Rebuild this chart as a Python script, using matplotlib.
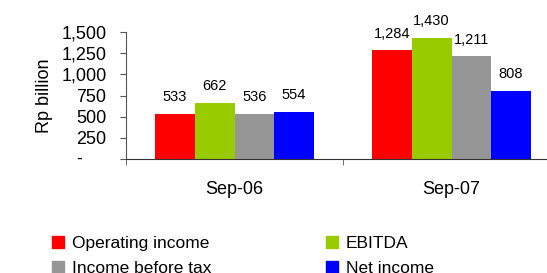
import numpy as np
import matplotlib.pyplot as plt
from matplotlib.patches import Patch
import matplotlib.transforms as mtransforms

plt.rcParams['font.family'] = ['Liberation Sans', 'DejaVu Sans']

periods = ['Sep-06', 'Sep-07']
series = ['Operating income', 'EBITDA', 'Income before tax', 'Net income']
colors = ['#FF0000', '#99CC00', '#969696', '#0000FF']
operating_income = [533, 1284]
ebitda = [662, 1430]
income_before_tax = [536, 1211]
net_income = [554, 808]
values = [operating_income, ebitda, income_before_tax, net_income]

yticks = [0, 250, 500, 750, 1000, 1250, 1500]
ytick_labels = ['', '250', '500', '750', '1,000', '1,250', '1,500']

fig = plt.figure(figsize=(5.47, 2.73), dpi=100)
# plot area runs past the right edge, like the original
ax = fig.add_axes([126 / 547, 1 - 159 / 273, 434 / 547, 127 / 273])

x = np.arange(len(periods))
w = 0.183
for i, (name, vals, c) in enumerate(zip(series, values, colors)):
    pos = x + (i - 1.5) * w
    ax.bar(pos, vals, width=w, color=c, label=name)
    for p, v in zip(pos, vals):
        ax.annotate(f'{v:,}', (p, v), xytext=(0, 7), textcoords='offset points',
                    ha='center', va='bottom', fontsize=10.5)

ax.set_xlim(-0.5, 1.5)
ax.set_ylim(0, 1500)
ax.set_yticks(yticks)
ax.set_yticklabels(ytick_labels, fontsize=13)
# zero shown as a dash, accounting style (sits left of the other labels)
trans = mtransforms.blended_transform_factory(fig.transFigure, ax.transData)
ax.text(79 / 547, 0, '-', transform=trans, ha='center', va='center', fontsize=13)
ax.set_xticks(x)
ax.set_xticklabels(periods, fontsize=13)
ax.set_xticks([-0.5, 0.5], minor=True)
ax.tick_params(axis='x', which='major', length=0, pad=16)
ax.tick_params(axis='x', which='minor', length=4, color='#555555')
ax.tick_params(axis='y', length=4, pad=10, color='#555555')
ax.set_ylabel('Rp billion', fontsize=13, labelpad=6)

for s in ['top', 'right']:
    ax.spines[s].set_visible(False)
ax.spines['left'].set_color('#555555')
ax.spines['bottom'].set_color('#333333')

order = [0, 2, 1, 3]
handles = [Patch(color=colors[i], label=series[i]) for i in order]
fig.legend(handles=handles, ncol=2, loc='upper left',
           bbox_to_anchor=(36 / 547, 1 - 220 / 273), frameon=False,
           fontsize=12.5, handlelength=0.7, handleheight=0.7,
           handletextpad=0.45, labelspacing=0.6, columnspacing=6.6)

fig.savefig('out.png', dpi=100)
